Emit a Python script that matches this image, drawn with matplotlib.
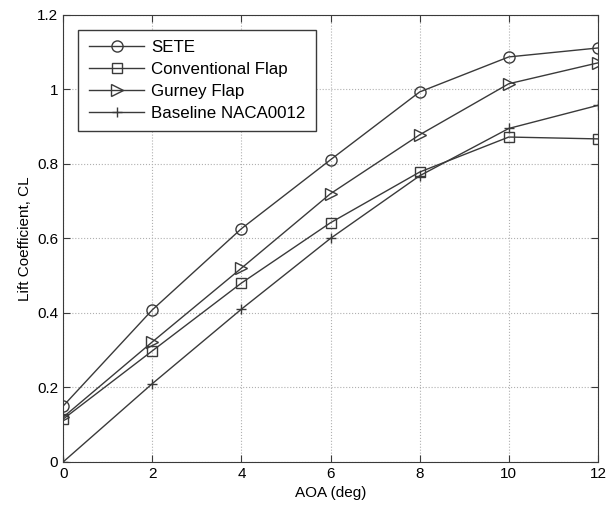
import matplotlib
matplotlib.use('Agg')
import matplotlib.pyplot as plt

plt.rcParams['font.family'] = ['Liberation Sans', 'DejaVu Sans']

# Angle of attack (deg)
aoa = [0, 2, 4, 6, 8, 10, 12]

# Lift coefficient for each configuration
sete = [0.15, 0.408, 0.626, 0.811, 0.993, 1.087, 1.111]
conventional = [0.115, 0.298, 0.48, 0.642, 0.778, 0.872, 0.867]
gurney = [0.12, 0.322, 0.52, 0.72, 0.878, 1.015, 1.071]
baseline = [0.0, 0.21, 0.41, 0.60, 0.768, 0.895, 0.957]

fig = plt.figure(figsize=(6.07, 5.11), dpi=100)
ax = fig.add_axes([0.104, 0.096, 0.881, 0.875])

lc = '#3a3a3a'
ax.plot(aoa, sete, '-o', color=lc, lw=1.0, mfc='none', ms=8, mew=1.0, label='SETE')
ax.plot(aoa, conventional, '-s', color=lc, lw=1.0, mfc='none', ms=6.5, mew=1.0, label='Conventional Flap')
ax.plot(aoa, gurney, '->', color=lc, lw=1.0, mfc='none', ms=8, mew=1.0, label='Gurney Flap')
ax.plot(aoa, baseline, '-+', color=lc, lw=1.0, ms=7, mew=1.0, label='Baseline NACA0012')

ax.set_xlim(0, 12)
ax.set_ylim(0, 1.2)
ax.set_xticks([0, 2, 4, 6, 8, 10, 12])
ax.set_yticks([0, 0.2, 0.4, 0.6, 0.8, 1.0, 1.2])
ax.set_yticklabels(['0', '0.2', '0.4', '0.6', '0.8', '1', '1.2'])
ax.tick_params(direction='in', top=True, right=True, labelsize=11, length=5, color=lc)
for s in ax.spines.values():
    s.set_color(lc)
ax.grid(True, linestyle=':', color='#b0b0b0', lw=0.8)

ax.set_xlabel('AOA (deg)', fontsize=11)
ax.set_ylabel('Lift Coefficient, CL', fontsize=11)

leg = ax.legend(loc='upper left', fontsize=12.2, fancybox=False, framealpha=1,
                edgecolor=lc, borderaxespad=0.9, handlelength=3.3, labelspacing=0.4,
                handletextpad=0.4, borderpad=0.6)
leg.get_frame().set_linewidth(1.0)

plt.savefig('out.png', dpi=100)
